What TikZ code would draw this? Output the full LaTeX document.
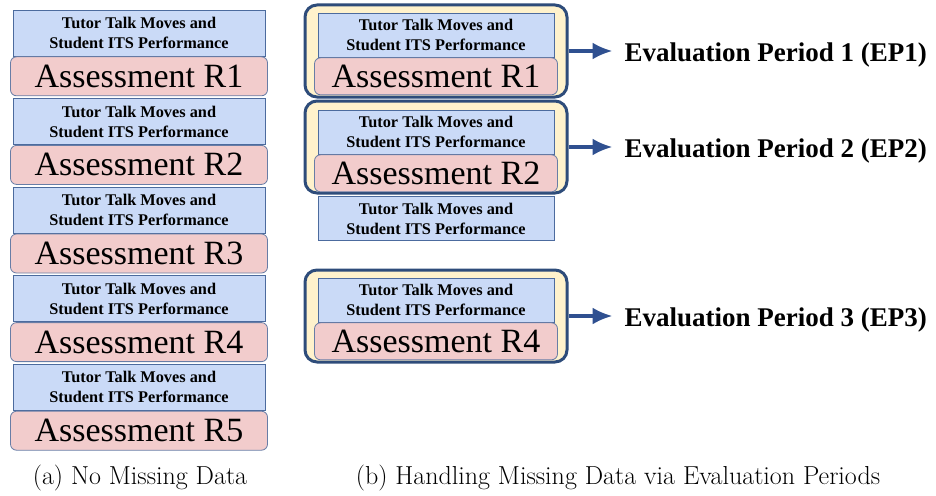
\documentclass[tikz,border=0pt]{standalone}
\usepackage{fontspec}
\usepackage{tikz}
\usepackage{xcolor}
\usetikzlibrary{positioning, fit, arrows.meta}
\newfontfamily\boxfont{Liberation Serif}
\definecolor{talkfill}{HTML}{CADAF7}
\definecolor{talkdraw}{HTML}{4C6B9E}
\definecolor{assessfill}{HTML}{F2CCCC}
\definecolor{assessdraw}{HTML}{687DA6}
\definecolor{periodfill}{HTML}{FFF2CC}
\definecolor{perioddraw}{HTML}{2E4C7A}
\definecolor{arrowblue}{HTML}{2F5090}
\tikzstyle{talk}=[draw=talkdraw,fill=talkfill,line width=0.8pt,minimum width=252pt,minimum height=46pt,align=center,inner sep=0pt,font=\boxfont\bfseries\fontsize{16.3}{20}\selectfont]
\tikzstyle{talkr}=[talk,minimum width=236pt,minimum height=44pt]
\tikzstyle{assess}=[draw=assessdraw,fill=assessfill,line width=0.8pt,rounded corners=6pt,minimum width=257pt,minimum height=39pt,inner sep=0pt,font=\boxfont\fontsize{34}{34}\selectfont]
\tikzstyle{assessr}=[assess,minimum width=243pt,minimum height=37pt]
\tikzstyle{period}=[draw=perioddraw,fill=periodfill,line width=3pt,rounded corners=12pt,inner sep=0pt]
\tikzstyle{eplabel}=[font=\boxfont\bfseries\fontsize{27}{27}\selectfont,inner sep=4pt]
\tikzstyle{arrow}=[line width=3.2pt,draw=arrowblue,-{Latex[length=20pt,width=17pt]},shorten >=8pt]
\tikzstyle{caption}=[font=\fontsize{26}{26}\selectfont]

\begin{document}
\begin{tikzpicture}[x=1pt,y=1pt]
    \useasboundingbox (0,0) rectangle (936,-495);

    % (a) no missing data
    \node[talk] (t1) at (139,-33) {Tutor Talk Moves and\\Student ITS Performance};
    \node[assess, below=0pt of t1] (a1) {Assessment R1};
    \node[talk, below=2pt of a1] (t2) {Tutor Talk Moves and\\Student ITS Performance};
    \node[assess, below=0pt of t2] (a2) {Assessment R2};
    \node[talk, below=2pt of a2] (t3) {Tutor Talk Moves and\\Student ITS Performance};
    \node[assess, below=0pt of t3] (a3) {Assessment R3};
    \node[talk, below=2pt of a3] (t4) {Tutor Talk Moves and\\Student ITS Performance};
    \node[assess, below=0pt of t4] (a4) {Assessment R4};
    \node[talk, below=2pt of a4] (t5) {Tutor Talk Moves and\\Student ITS Performance};
    \node[assess, below=0pt of t5] (a5) {Assessment R5};

    % (b) evaluation periods
    \node[period, minimum width=262pt, minimum height=92pt] (p1) at (436,-51) {};
    \node[period, minimum width=262pt, minimum height=92pt] (p2) at (436,-147) {};
    \node[period, minimum width=262pt, minimum height=92pt] (p3) at (436,-316) {};
    \node[talkr] (rt1) at (436,-35) {Tutor Talk Moves and\\Student ITS Performance};
    \node[assessr, below=0pt of rt1] (ra1) {Assessment R1};
    \node[talkr] (rt2) at (436,-132) {Tutor Talk Moves and\\Student ITS Performance};
    \node[assessr, below=0pt of rt2] (ra2) {Assessment R2};
    \node[talkr, below=4pt of ra2] (rt3) {Tutor Talk Moves and\\Student ITS Performance};
    \node[talkr] (rt4) at (436,-300) {Tutor Talk Moves and\\Student ITS Performance};
    \node[assessr, below=0pt of rt4] (ra4) {Assessment R4};

    \node[eplabel, right=52pt of p1, yshift=-4pt] (ep1) {Evaluation Period 1 (EP1)};
    \node[eplabel, right=52pt of p2, yshift=-4pt] (ep2) {Evaluation Period 2 (EP2)};
    \node[eplabel, right=52pt of p3, yshift=-4pt] (ep3) {Evaluation Period 3 (EP3)};

    \draw[arrow] (p1.east) -- (p1.east -| ep1.west);
    \draw[arrow] (p2.east) -- (p2.east -| ep2.west);
    \draw[arrow] (p3.east) -- (p3.east -| ep3.west);

    % captions
    \node[caption] (capa) at (140,-478) {(a) No Missing Data};
    \node[caption] (capb) at (618,-478) {(b) Handling Missing Data via Evaluation Periods};
\end{tikzpicture}
\end{document}
